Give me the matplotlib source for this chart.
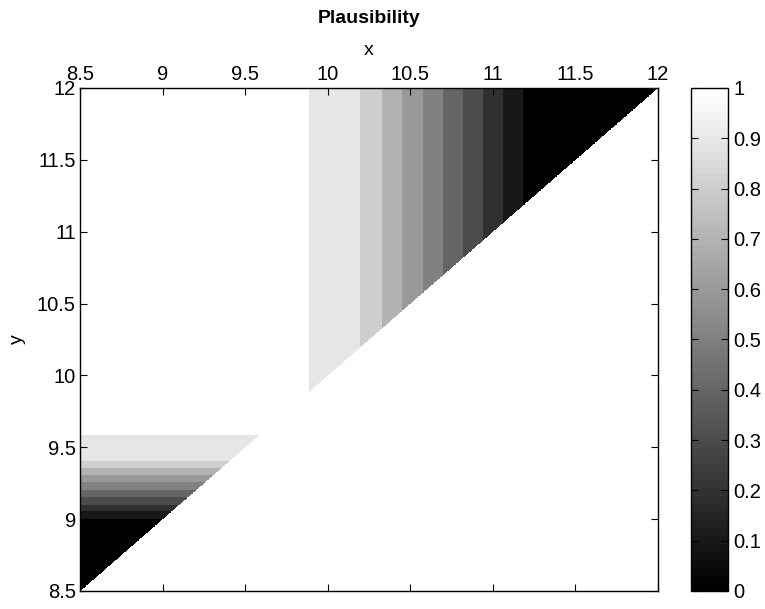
import numpy as np
import matplotlib
matplotlib.use("Agg")
import matplotlib.pyplot as plt

plt.rcParams['font.family'] = ['Liberation Sans', 'DejaVu Sans']

# band edges along x (for the right part) and the plausibility in each band
x_edges = [8.5, 9.884, 10.193, 10.324, 10.450, 10.575, 10.698, 10.819, 10.935, 11.059, 11.181, 12.0]
x_vals = [1.0, 0.9, 0.8, 0.7, 0.6, 0.5, 0.4, 0.3, 0.2, 0.1, 0.0]

# band edges along y (for the lower-left part)
y_edges = [8.5, 9.0, 9.051, 9.099, 9.153, 9.204, 9.255, 9.308, 9.354, 9.405, 9.583, 12.0]
y_vals = [0.0, 0.1, 0.2, 0.3, 0.4, 0.5, 0.6, 0.7, 0.8, 0.9, 1.0]

xmin, xmax = 8.5, 12.0
ymin, ymax = 8.5, 12.0
tick_labels = ['8.5', '9', '9.5', '10', '10.5', '11', '11.5', '12']
cbar_ticks = [0, 0.1, 0.2, 0.3, 0.4, 0.5, 0.6, 0.7, 0.8, 0.9, 1]
cbar_labels = ['0', '0.1', '0.2', '0.3', '0.4', '0.5', '0.6', '0.7', '0.8', '0.9', '1']

# grid for drawing
n = 900
gx = np.linspace(xmin, xmax, n)
gy = np.linspace(ymin, ymax, n)
X, Y = np.meshgrid(gx, gy)

fx = np.array(x_vals)[np.clip(np.digitize(X, x_edges) - 1, 0, len(x_vals) - 1)]
fy = np.array(y_vals)[np.clip(np.digitize(Y, y_edges) - 1, 0, len(y_vals) - 1)]
Z = np.minimum(fx, fy)
Z = np.ma.masked_where(Y < X, Z)  # lower triangle is left blank

cmap = plt.get_cmap('gray', 64).copy()
cmap.set_bad('white')

fig = plt.figure(figsize=(7.65, 6.09), dpi=100)
ax = fig.add_axes([0.1046, 0.0296, 0.7556, 0.826])
cax = fig.add_axes([0.903, 0.0296, 0.049, 0.826])

im = ax.imshow(Z, origin='lower', extent=[xmin, xmax, ymin, ymax],
               cmap=cmap, vmin=0, vmax=1, aspect='auto', interpolation='nearest')

ax.set_xlim(xmin, xmax)
ax.set_ylim(ymin, ymax)
ax.set_xticks(np.arange(8.5, 12.01, 0.5))
ax.set_yticks(np.arange(8.5, 12.01, 0.5))
ax.set_xticklabels(tick_labels)
ax.set_yticklabels(tick_labels)
ax.xaxis.tick_top()
ax.xaxis.set_label_position('top')
ax.tick_params(direction='in', top=True, bottom=True, left=True, right=True,
               length=5, labelsize=14.5, pad=3)
ax.set_xlabel('x', fontsize=14, labelpad=7)
ax.set_ylabel('y', fontsize=14, labelpad=8)
ax.set_title('Plausibility', fontsize=14, fontweight='bold', pad=14)
for s in ax.spines.values():
    s.set_linewidth(1.0)

cb = fig.colorbar(im, cax=cax, ticks=cbar_ticks)
cb.ax.set_yticklabels(cbar_labels)
cb.ax.tick_params(direction='in', left=True, right=True, length=5, labelsize=14.5, pad=3.5)
cb.outline.set_linewidth(1.0)

plt.savefig('out.png', dpi=100)
